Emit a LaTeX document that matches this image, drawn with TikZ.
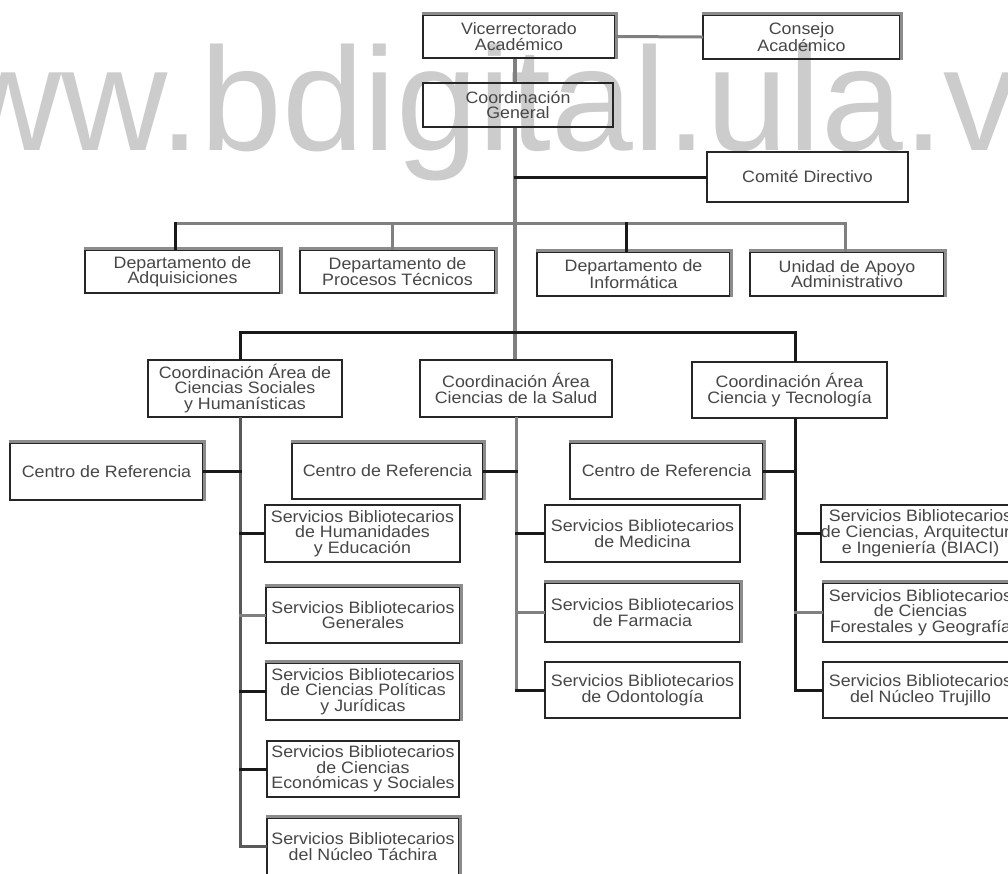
\documentclass[tikz,border=0pt]{standalone}
\usepackage{fontspec}
\setmainfont{Liberation Sans}[FakeStretch=1.08]
\newfontfamily\wmfont{Liberation Sans}
\begin{document}
\begin{tikzpicture}[x=1pt,y=-1pt,
  box/.style={draw=black!85, line width=2.8pt, inner sep=0pt, align=center,
    text=black!72, font=\fontsize{16.5}{15.5}\selectfont},
  sz/.style 2 args={minimum width=#1, minimum height=#2},
  lb/.style={line width=3pt, draw=black!90, line cap=rect},
  lg/.style={line width=3pt, draw=black!50, line cap=rect},
  lm/.style={line width=3pt, draw=black!65, line cap=rect},
  trunk/.style={line width=4pt, draw=black!50},
  soft/.style={line width=2.8pt, draw=black!45}]
\useasboundingbox (0,0) rectangle (1008,873);
\clip (0,0) rectangle (1008,873);
\fill[white] (0,0) rectangle (1008,873);

% watermark
\node[anchor=base west, inner sep=0pt, text=black!20,
  font=\wmfont\fontsize{147}{147}\selectfont] (wm) at (-151,150) {www.bdigital.ula.ve};

% top levels
\node[box, sz={192}{43}] (vice) at (519,36.5) {Vicerrectorado\\Académico};
\node[box, sz={197}{44}] (consejo) at (801.5,37) {Consejo\\Académico};
\node[box, sz={190}{44}] (cgen) at (518,105) {Coordinación\\General};
\node[box, sz={201}{50}] (comite) at (807.5,177) {Comité Directivo};

% departments
\node[box, sz={195}{43}] (adq) at (182.5,271.5) {Departamento de\\Adquisiciones};
\node[box, sz={195}{43}] (proc) at (397.5,271.5) {Departamento de\\Procesos Técnicos};
\node[box, sz={193}{44}] (info) at (633.5,274) {Departamento de\\Informática};
\node[box, sz={194}{44}] (unidad) at (847,274) {Unidad de Apoyo\\Administrativo};

% area coordinations
\node[box, sz={194}{57}] (soc) at (245,388.5) {Coordinación Área de\\Ciencias Sociales\\y Humanísticas};
\node[box, sz={192}{57}] (salud) at (516,388.5) {Coordinación Área\\Ciencias de la Salud};
\node[box, sz={195}{56}] (cien) at (789.5,390) {Coordinación Área\\Ciencia y Tecnología};

% reference centres
\node[box, sz={193}{57}] (cr1) at (106.5,471.5) {Centro de Referencia};
\node[box, sz={191}{56}] (cr2) at (387.5,471) {Centro de Referencia};
\node[box, sz={193}{56}] (cr3) at (666.5,471) {Centro de Referencia};

% library services
\node[box, sz={195}{57}] (hum) at (362.5,533.5) {Servicios Bibliotecarios\\de Humanidades\\y Educación};
\node[box, sz={194}{56}] (gen) at (363,615) {Servicios Bibliotecarios\\Generales};
\node[box, sz={194}{57}] (pol) at (363,691.5) {Servicios Bibliotecarios\\de Ciencias Políticas\\y Jurídicas};
\node[box, sz={192}{56}] (eco) at (363,769) {Servicios Bibliotecarios\\de Ciencias\\Económicas y Sociales};
\node[box, sz={192}{57}] (tac) at (363,846.5) {Servicios Bibliotecarios\\del Núcleo Táchira};
\node[box, sz={195}{57}] (med) at (642.5,533.5) {Servicios Bibliotecarios\\de Medicina};
\node[box, sz={195}{59}] (far) at (642.5,612.5) {Servicios Bibliotecarios\\de Farmacia};
\node[box, sz={195}{56}] (odo) at (642.5,690) {Servicios Bibliotecarios\\de Odontología};
\node[box, sz={195}{57}] (biaci) at (920.5,533.5) {Servicios Bibliotecarios\\de Ciencias, Arquitectura\\e Ingeniería (BIACI)};
\node[box, sz={195}{59}] (fore) at (920.5,612.5) {Servicios Bibliotecarios\\de Ciencias\\Forestales y Geografía};
\node[box, sz={195}{56}] (tru) at (920.5,690) {Servicios Bibliotecarios\\del Núcleo Trujillo};

% lighter top and right edges
\foreach \n in {vice,consejo,adq,proc,info,unidad,cr1,cr2,cr3,gen,pol,tac,far,fore}
  \draw[soft] (\n.north west) -- (\n.north east) -- (\n.south east);

% guide coordinates
\coordinate (tr) at (515,0);
\coordinate (bus2) at (515,223);
\coordinate (bus3) at (515,332);
\path ([xshift=-7.5pt]adq.north) coordinate (d1)
      ([xshift=-5.5pt]proc.north) coordinate (d2)
      ([xshift=-7.5pt]info.north) coordinate (d3)
      ([xshift=-2pt]unidad.north) coordinate (d4)
      ([xshift=-5pt]soc.north) coordinate (e1)
      ([xshift=5.5pt]cien.north) coordinate (e3);

% main trunk
\draw[lg] (vice.east) -- (consejo.west);
\draw[trunk] (vice.south -| tr) -- (cgen.north -| tr);
\draw[trunk] (cgen.south -| tr) -- (salud.north -| tr);
\draw[lb] (comite.west) -- (comite.west -| tr);

% departments bus
\draw[lg] (d1 |- bus2) -- (d4 |- bus2);
\draw[lb] (d1) -- (d1 |- bus2);
\draw[lg] (d2) -- (d2 |- bus2);
\draw[lb] (d3) -- (d3 |- bus2);
\draw[lg] (d4) -- (d4 |- bus2);

% areas bus
\draw[lb] (e1) |- (bus3) -| (e3);

% social sciences branch
\draw[lm] (e1 |- soc.south) |- (tac.west);
\draw[lb] (cr1.east) -- (cr1.east -| e1);
\draw[lb] (hum.west) -- (hum.west -| e1);
\draw[lg] (gen.west) -- (gen.west -| e1);
\draw[lb] (pol.west) -- (pol.west -| e1);
\draw[lb] (eco.west) -- (eco.west -| e1);

% health sciences branch
\draw[lg] (salud.south) -- (salud.south |- odo.west);
\draw[lb] (cr2.east) -- (cr2.east -| salud.south);
\draw[lb] (med.west) -- (med.west -| salud.south);
\draw[lg] (far.west) -- (far.west -| salud.south);
\draw[lb] (odo.west) -- (odo.west -| salud.south);

% science and technology branch
\draw[lb] (e3 |- cien.south) |- (tru.west);
\draw[lb] (cr3.east) -- (cr3.east -| e3);
\draw[lb] (biaci.west) -- (biaci.west -| e3);
\draw[lg] (fore.west) -- (fore.west -| e3);
\end{tikzpicture}
\end{document}
